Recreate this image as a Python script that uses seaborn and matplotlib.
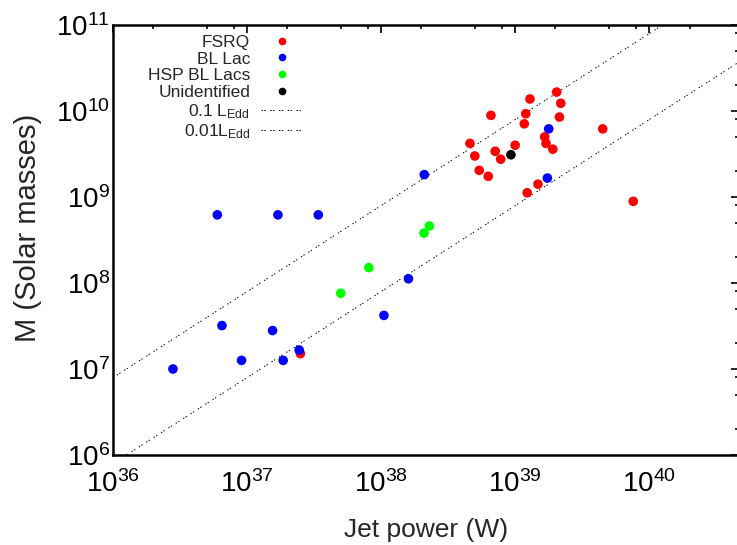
import numpy as np
import pandas as pd
import matplotlib
matplotlib.use("Agg")
import matplotlib.pyplot as plt
from matplotlib.lines import Line2D
from matplotlib.ticker import LogLocator, NullFormatter
import seaborn as sns

# jet power (W) and black hole mass (solar masses)
fsrq_p = [2.5e37, 6.6e38, 1.29e39, 1.20e39, 1.17e39, 4.6e38, 5.0e38, 7.1e38,
          7.8e38, 1.0e39, 5.4e38, 6.3e38, 1.48e39, 2.04e39, 2.19e39, 2.14e39,
          4.5e39, 1.66e39, 1.70e39, 1.91e39, 1.23e39, 7.6e39]
fsrq_m = [1.51e7, 8.9e9, 1.38e10, 9.3e9, 7.1e9, 4.2e9, 3.0e9, 3.4e9,
          2.75e9, 4.0e9, 2.04e9, 1.74e9, 1.41e9, 1.66e10, 1.23e10, 8.5e9,
          6.2e9, 5.0e9, 4.2e9, 3.6e9, 1.12e9, 8.9e8]
bllac_p = [2.8e36, 6.0e36, 1.7e37, 3.4e37, 6.5e36, 1.55e37, 9.1e36, 1.86e37,
           2.45e37, 1.05e38, 1.6e38, 2.1e38, 1.78e39, 1.74e39]
bllac_m = [1.0e7, 6.2e8, 6.2e8, 6.2e8, 3.2e7, 2.8e7, 1.26e7, 1.26e7,
           1.66e7, 4.2e7, 1.12e8, 1.82e9, 6.2e9, 1.66e9]
hsp_p = [8.1e37, 5.0e37, 2.09e38, 2.29e38]
hsp_m = [1.51e8, 7.6e7, 3.8e8, 4.6e8]
unid_p = [9.3e38]
unid_m = [3.1e9]

classes = ["FSRQ", "BL Lac", "HSP BL Lacs", "Unidentified"]
colors = {"FSRQ": "#ff0000", "BL Lac": "#0000ff",
          "HSP BL Lacs": "#00ff00", "Unidentified": "#000000"}

# Eddington fractions for the reference lines (L_Edd = 1.26e31 W per solar mass)
edd_frac = [0.1, 0.01]
edd_labels = [r"0.1 L$_{\mathrm{Edd}}$", r"0.01L$_{\mathrm{Edd}}$"]
p_line = np.array([1e35, 1e42])

df = pd.concat([
    pd.DataFrame({"P": fsrq_p, "M": fsrq_m, "cls": "FSRQ"}),
    pd.DataFrame({"P": bllac_p, "M": bllac_m, "cls": "BL Lac"}),
    pd.DataFrame({"P": hsp_p, "M": hsp_m, "cls": "HSP BL Lacs"}),
    pd.DataFrame({"P": unid_p, "M": unid_m, "cls": "Unidentified"}),
], ignore_index=True)

sns.set_theme(style="white")
plt.rcParams["font.family"] = ["Liberation Sans", "DejaVu Sans"]
plt.rcParams["mathtext.fontset"] = "custom"
plt.rcParams["mathtext.rm"] = "Liberation Sans"
plt.rcParams["mathtext.it"] = "Liberation Sans:italic"

fig = plt.figure(figsize=(7.37, 5.45), dpi=100)
ax = fig.add_axes([113 / 737, 90 / 545, 626 / 737, 430 / 545])

dots = (0, (1.5, 1.5, 1.5, 4.5))
for f, lab in zip(edd_frac, edd_labels):
    ax.plot(p_line, p_line / (f * 1.26e31), color="black", lw=0.7,
            linestyle=dots, label=lab, zorder=1)

sns.scatterplot(data=df, x="P", y="M", hue="cls", palette=colors,
                s=48, linewidth=0, legend=False, ax=ax, zorder=3)

ax.set_xscale("log")
ax.set_yscale("log")
ax.set_xlim(1e36, 10 ** 40.67)
ax.set_ylim(1e6, 1e11)

for axis in (ax.xaxis, ax.yaxis):
    axis.set_major_locator(LogLocator(base=10, numticks=20))
    axis.set_minor_locator(LogLocator(base=10, subs=[2, 5, 8], numticks=20))
    axis.set_minor_formatter(NullFormatter())
ax.tick_params(which="both", direction="in", top=True, right=True,
               color="black", width=1.2, labelsize=20, labelcolor="black")
ax.tick_params(which="major", length=6)
ax.tick_params(which="minor", length=3)
ax.tick_params(axis="x", which="major", pad=11)
ax.tick_params(axis="y", which="major", pad=2)
for sp in ax.spines.values():
    sp.set_color("black")
    sp.set_linewidth(1.8)

ax.set_xlabel("Jet power (W)", fontsize=19, labelpad=14)
ax.set_ylabel("M (Solar masses)", fontsize=21, labelpad=10, y=0.528)

handles = [Line2D([], [], marker="o", ls="", color=colors[c], markersize=5.5,
                  markeredgewidth=0) for c in classes]
handles += [Line2D([], [], color="black", lw=0.7, linestyle=dots)
            for _ in edd_frac]
ax.legend(handles, classes + edd_labels, loc="upper right",
          bbox_to_anchor=(0.305, 0.978), frameon=False, fontsize=12.5,
          markerfirst=False, handlelength=2.5, handletextpad=0.6,
          labelspacing=0.1, borderpad=0, borderaxespad=0)

fig.savefig("out.png", dpi=100)
